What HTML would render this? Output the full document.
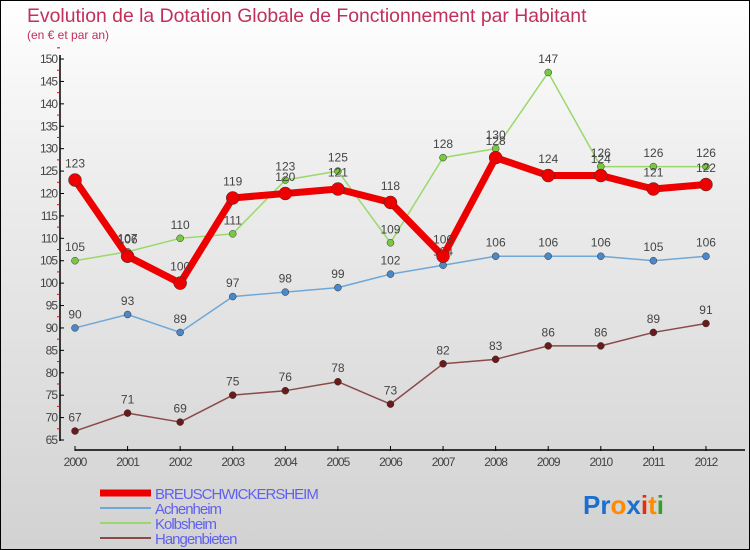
<!DOCTYPE html>
<html><head><meta charset="utf-8"><style>
body{margin:0}
#c{position:relative;width:750px;height:550px;box-sizing:border-box;border:1px solid #000;background:linear-gradient(#fff 0%,#eee 30%,#d2d2d2 100%);font-family:"Liberation Sans",sans-serif;overflow:hidden}
</style></head><body>
<div id="c">
<svg id="s" width="750" height="550" style="position:absolute;left:-1px;top:-1px">
<text x="27" y="22" font-size="19.4" fill="#c0305a">Evolution de la Dotation Globale de Fonctionnement par Habitant</text>
<text x="27" y="39" font-size="12" fill="#c0305a">(en € et par an)</text>
<g id="logo"><text x="583" y="514" font-size="26" font-weight="bold"><tspan fill="#1a6fd0">Pr</tspan><tspan fill="#ff8a00">o</tspan><tspan fill="#1a6fd0">x</tspan><tspan fill="#e03010">i</tspan><tspan fill="#ff8a00">t</tspan><tspan fill="#30a030">i</tspan></text></g>
</svg>
</div>
<script>
const years=[2000,2001,2002,2003,2004,2005,2006,2007,2008,2009,2010,2011,2012];
const breusch=[123,106,100,119,120,121,118,106,128,124,124,121,122];
const achenheim=[90,93,89,97,98,99,102,104,106,106,106,105,106];
const kolbsheim=[105,107,110,111,123,125,109,128,130,147,126,126,126];
const hangenbieten=[67,71,69,75,76,78,73,82,83,86,86,89,91];
const yTicks=[65,70,75,80,85,90,95,100,105,110,115,120,125,130,135,140,145,150];
const NS="http://www.w3.org/2000/svg",s=document.getElementById('s');
const X=i=>75+i*52.58, Y=v=>440-(v-65)*4.482;
function el(t,a,p){const e=document.createElementNS(NS,t);for(const k in a)e.setAttribute(k,a[k]);(p||s).appendChild(e);return e;}
let ax=el('line',{x1:60,y1:55,x2:60,y2:441,stroke:'#000','stroke-width':1.5});


let xa=el('line',{x1:75,y1:450,x2:745,y2:450,stroke:'#000','stroke-width':1.5});


yTicks.forEach(v=>{el('line',{x1:60,y1:Y(v),x2:64,y2:Y(v),stroke:'#000'});
el('line',{x1:57,y1:Y(v)-11.2,x2:60,y2:Y(v)-11.2,stroke:'#e00'});
const t=el('text',{x:57,y:Y(v)+4,'font-size':12,fill:'#444','text-anchor':'end','letter-spacing':'-1'});t.textContent=v;

});
years.forEach((y,i)=>{el('line',{x1:X(i),y1:446,x2:X(i),y2:451,stroke:'#000'});
const t=el('text',{x:X(i),y:466,'font-size':12,fill:'#444','text-anchor':'middle','letter-spacing':'-1'});t.textContent=y;

});
function series(d,col,lw,r,name,dot){
const g=el('g',{});


el('polyline',{points:d.map((v,i)=>X(i)+','+Y(v)).join(' '),fill:'none',stroke:col,'stroke-width':lw,'stroke-linejoin':'round'},g);
d.forEach((v,i)=>{const c=el('circle',{cx:X(i),cy:Y(v),r:r,fill:dot,stroke:'#333','stroke-width':0.5},g);


const t=el('text',{x:X(i),y:Y(v)-(r+6),'font-size':12,fill:'#444','text-anchor':'middle'},g);t.textContent=v;

});}
series(hangenbieten,'#8a4a4a',1.5,3.5,'series-hangenbieten','#6a1a1a');
series(achenheim,'#6fa8d8',1.5,3.5,'series-achenheim','#4a88c8');
series(kolbsheim,'#9ad86a',1.5,3.5,'series-kolbsheim','#7ac840');
series(breusch,'#ee0000',7,6.5,'series-breuschwickersheim','#ee0000');
const leg=[['BREUSCHWICKERSHEIM','#ee0000',7],['Achenheim','#6fa8d8',2],['Kolbsheim','#9ad86a',2],['Hangenbieten','#8a4a4a',2]];
leg.forEach((l,i)=>{const y=493+i*15;const g=el('g',{});


el('line',{x1:100,y1:y,x2:151,y2:y,stroke:l[1],'stroke-width':l[2]},g);
const t=el('text',{x:155,y:y+6,'font-size':15,fill:'#6060f0','letter-spacing':'-1'},g);t.textContent=l[0];});
</script>
</body></html>
